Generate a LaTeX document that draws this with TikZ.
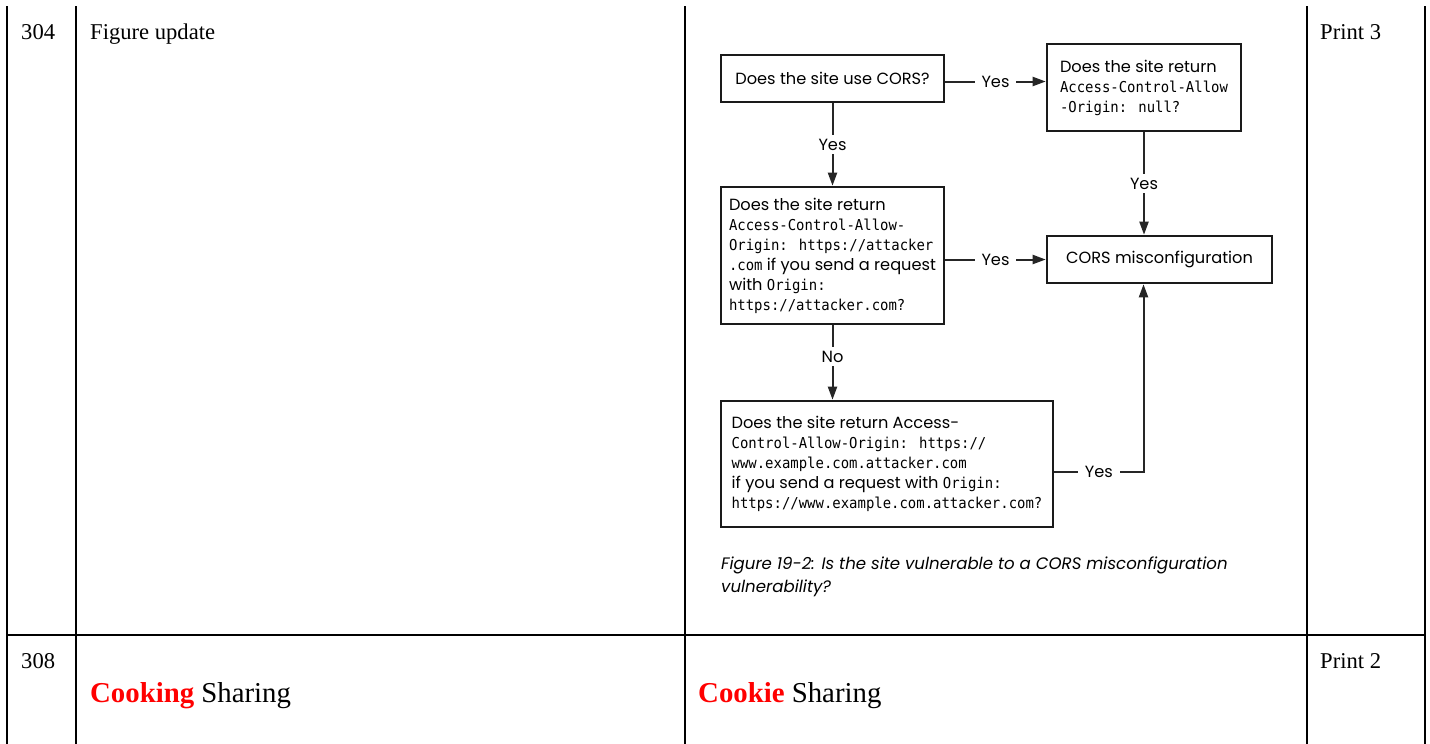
\documentclass[tikz,border=0pt]{standalone}
\usepackage{fontspec}
\setmainfont{Liberation Serif}
\newfontfamily\fut{Poppins}
\newfontfamily\mon{DejaVu Sans Mono}[FakeStretch=0.93]
\usetikzlibrary{arrows.meta}
\definecolor{boxline}{HTML}{1A1A1A}
\definecolor{conline}{HTML}{262626}
\definecolor{cookred}{HTML}{FF0000}
\newcommand\mo[1]{{\mon\fontsize{15}{20}\selectfont #1}}
\begin{document}
\begin{tikzpicture}[x=1pt,y=-1pt,
 tline/.style={line width=1.3pt,black},
 cell/.style={anchor=base west,inner sep=0pt,font=\fontsize{22.6}{26}\selectfont},
 big/.style={anchor=base west,inner sep=0pt,font=\fontsize{28.8}{32}\selectfont},
 fbox/.style={draw=boxline,line width=2.6pt,align=left,inner sep=0pt,font=\fut\fontsize{16.2}{20}\selectfont},
 conn/.style={draw=conline,line width=2pt},
 arr/.style={conn,-{Triangle[length=13pt,width=9pt]}},
 lbl/.style={fill=white,font=\fut\fontsize{16.2}{18}\selectfont,inner xsep=7pt,inner ysep=4pt},
 capt/.style={anchor=base west,inner sep=0pt,font=\fut\itshape\fontsize{16.6}{20}\selectfont},
]
\fill[white] (0,0) rectangle (1430,744);
\useasboundingbox (0,0) rectangle (1430,744);

% table rules
\draw[tline] (7,6) -- (7,744);
\draw[tline] (76,6) -- (76,744);
\draw[tline] (685,6) -- (685,744);
\draw[tline] (1307,6) -- (1307,744);
\draw[tline] (1425,6) -- (1425,744);
\draw[tline] (7,635) -- (1425,635);

% table texts
\node[cell] (n304) at (21,39) {304};
\node[cell] (fig) at (90,39) {Figure update};
\node[cell] (p3) at (1320,39) {Print 3};
\node[cell] (n308) at (21,668) {308};
\node[big] (cook1) at (90,702) {\textcolor{cookred}{\bfseries Cooking} Sharing};
\node[big] (cook2) at (698,702) {\textcolor{cookred}{\bfseries Cookie} Sharing};
\node[cell] (p2) at (1320,668) {Print 2};

% flowchart boxes
\node[fbox,minimum width=223pt,minimum height=47pt] (A) at (832.5,78.5) {Does the site use CORS?};
\node[fbox,minimum width=194pt,minimum height=87pt] (B) at (1144,87.5)
  {Does the site return\\\mo{Access-Control-Allow}\\\mo{-Origin: null?}};
\node[fbox,minimum width=225pt,minimum height=47pt] (C) at (1159.5,259.5) {CORS misconfiguration};
\node[fbox,minimum width=223pt,minimum height=137pt] (D) at (832.5,255.5)
  {Does the site return\\\mo{Access-Control-Allow-}\\\mo{Origin: https://attacker}\\\mo{.com} if you send a request\\with \mo{Origin:}\\\mo{https://attacker.com?}};
\node[fbox,minimum width=332pt,minimum height=126pt] (E) at (887,464)
  {Does the site return Access-\\\mo{Control-Allow-Origin: https://}\\\mo{www.example.com.attacker.com}\\if you send a request with \mo{Origin:}\\\mo{https://www.example.com.attacker.com?}};

% connectors
\draw[arr] ([yshift=-3pt]A.east) -- node[lbl]{Yes} ([yshift=-3pt]A.east -| B.west);
\draw[arr] (A.south) -- node[lbl]{Yes} (D.north);
\draw[arr] (B.south) -- node[lbl]{Yes} (B.south |- C.north);
\draw[arr] (D.east |- C.west) -- node[lbl]{Yes} (C.west);
\draw[arr] (D.south) -- node[lbl,pos=0.42]{No} (D.south |- E.north);
\draw[arr] ([yshift=-8pt]E.east) -| node[lbl,pos=0.25]{Yes} ([xshift=-16pt]C.south);

% caption
\node[capt] (cap1) at (721,569) {Figure 19-2: Is the site vulnerable to a CORS misconfiguration};
\node[capt] (cap2) at (721,592) {vulnerability?};
\end{tikzpicture}
\end{document}
